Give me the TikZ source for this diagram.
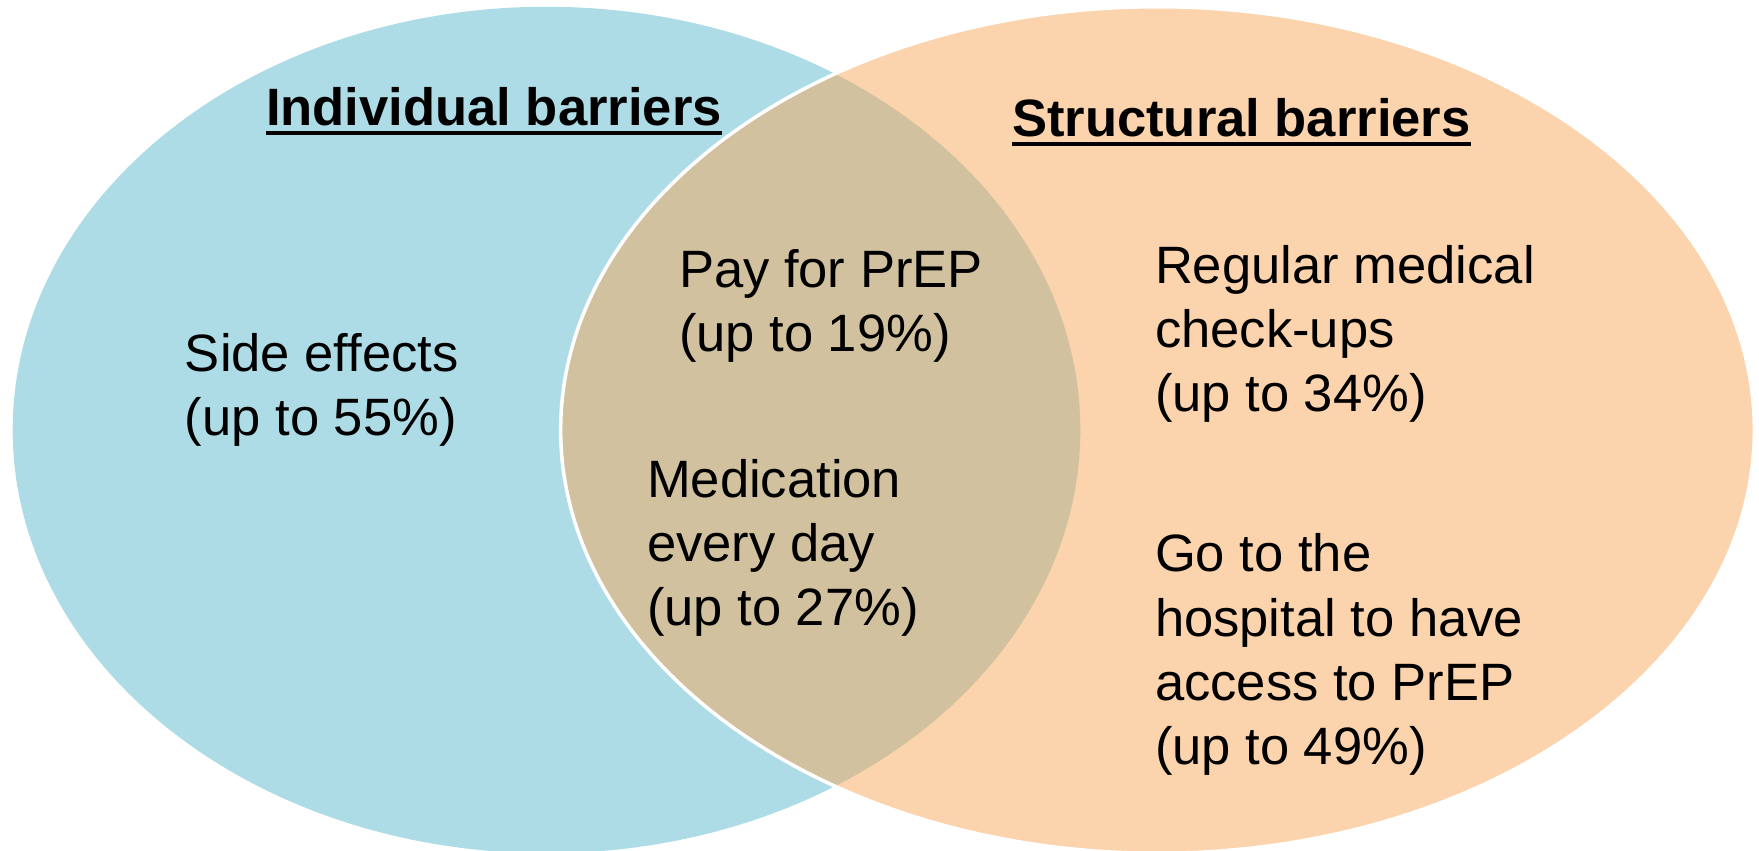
\documentclass[tikz,border=0pt]{standalone}
\usepackage{fontspec}
\setmainfont{Liberation Sans}
\definecolor{blueC}{RGB}{173,220,231}
\definecolor{peachC}{RGB}{251,211,172}
\definecolor{tanC}{RGB}{210,193,159}
\tikzset{
  txt/.style={anchor=base west, inner sep=0pt, outer sep=0pt, align=left,
    font=\fontsize{14.95pt}{18.2pt}\selectfont},
  head/.style={anchor=base west, inner sep=0pt, outer sep=0pt,
    font=\fontsize{14.95pt}{18.2pt}\selectfont\bfseries},
  uline/.style={line width=0.035cm, black}
}
\begin{document}
\begin{tikzpicture}[x=0.01cm, y=-0.01cm]
\useasboundingbox (0,0) rectangle (1759,851);
% ellipses
\fill[blueC] (546.5,430) ellipse [x radius=5.335cm, y radius=4.23cm];
\fill[peachC] (1157.5,430) ellipse [x radius=5.965cm, y radius=4.23cm];
\begin{scope}
  \clip (546.5,430) ellipse [x radius=5.335cm, y radius=4.23cm];
  \fill[tanC] (1157.5,430) ellipse [x radius=5.965cm, y radius=4.23cm];
\end{scope}
\draw[white, line width=0.035cm] (1157.5,430) ellipse [x radius=5.965cm, y radius=4.23cm];
% headings
\node[head] (ind) at (266,125) {Individual barriers};
\node[head] (str) at (1012,136) {Structural barriers};
\draw[uline] ([yshift=-0.08cm]ind.base west) -- ([yshift=-0.08cm]ind.base east);
\draw[uline] ([yshift=-0.08cm]str.base west) -- ([yshift=-0.08cm]str.base east);
% texts (anchored at the baseline of the last line)
\node[txt] (side) at (185,435) {Side effects\\(up to 55\%)};
\node[txt] (pay) at (679,351) {Pay for PrEP\\(up to 19\%)};
\node[txt] (med) at (647,625) {Medication\\every day\\(up to 27\%)};
\node[txt] (reg) at (1155,411) {Regular medical\\check-ups\\(up to 34\%)};
\node[txt] (go) at (1155,764) {Go to the\\hospital to have\\access to PrEP\\(up to 49\%)};
\end{tikzpicture}
\end{document}
